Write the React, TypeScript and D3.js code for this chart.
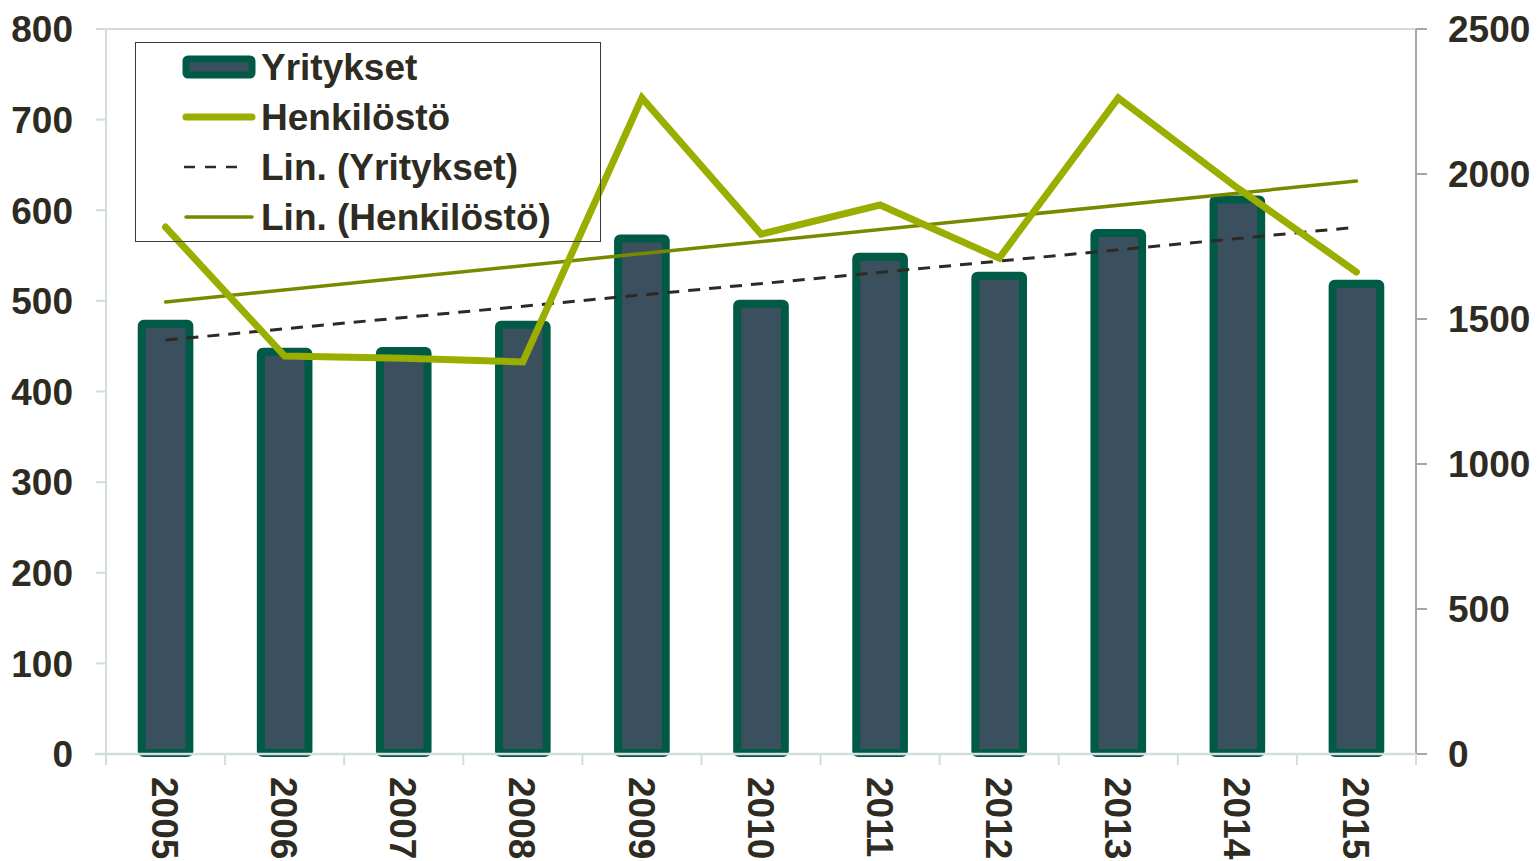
import React, { useRef, useEffect } from 'react';
import * as d3 from 'd3';

const years = ['2005', '2006', '2007', '2008', '2009', '2010', '2011', '2012', '2013', '2014', '2015'];
const yritykset = [477, 446, 447, 476, 571, 499, 551, 530, 577, 614, 521];
const henkilosto = [1817, 1372, 1365, 1352, 2262, 1793, 1893, 1710, 2262, 1952, 1662];
const leftTicks = [0, 100, 200, 300, 400, 500, 600, 700, 800];
const rightTicks = [0, 500, 1000, 1500, 2000, 2500];

const TEXT = '#2e2b22';
const BAR_STROKE = '#005a46';
const BAR_FILL = '#3b505e';
const LINE = '#9aae00';
const TREND_H = '#7a8800';

// least squares fit, returns value at first and last index
function trend(vals: number[]) {
  const n = vals.length;
  const mx = (n - 1) / 2;
  const my = d3.mean(vals) as number;
  let sxy = 0, sxx = 0;
  vals.forEach((v, i) => { sxy += (i - mx) * (v - my); sxx += (i - mx) * (i - mx); });
  const b = sxy / sxx;
  return [my - b * mx, my + b * (n - 1 - mx)];
}

function Chart() {
  const ref = useRef<SVGSVGElement>(null);

  useEffect(() => {
    const svg = d3.select(ref.current);
    svg.selectAll('*').remove();

    const left = 106, right = 1416, top = 29, bottom = 754;
    const font = '"Liberation Sans", Arial, sans-serif';
    const fs = 37;

    const x = d3.scaleBand().domain(years).range([left, right]).padding(0);
    const yL = d3.scaleLinear().domain([0, 800]).range([bottom, top]);
    const yR = d3.scaleLinear().domain([0, 2500]).range([bottom, top]);
    const cx = (d: string) => (x(d) as number) + x.bandwidth() / 2;
    const barW = x.bandwidth() * 0.4;

    // top border line
    svg.append('line')
      .attr('x1', left).attr('x2', right)
      .attr('y1', top).attr('y2', top)
      .attr('stroke', '#d3dde0').attr('stroke-width', 2);

    // left axis
    const la = svg.append('g');
    la.append('line')
      .attr('x1', left).attr('x2', left).attr('y1', top).attr('y2', bottom)
      .attr('stroke', '#d3dde0').attr('stroke-width', 2);
    leftTicks.forEach(t => {
      la.append('line')
        .attr('x1', left - 10).attr('x2', left).attr('y1', yL(t)).attr('y2', yL(t))
        .attr('stroke', '#d3dde0').attr('stroke-width', 2);
      la.append('text')
        .attr('x', 73).attr('y', yL(t)).attr('dy', '0.36em')
        .attr('text-anchor', 'end')
        .attr('font-family', font).attr('font-weight', 'bold').attr('font-size', fs)
        .attr('fill', TEXT).text(t);
    });

    // right axis
    const ra = svg.append('g');
    ra.append('line')
      .attr('x1', right).attr('x2', right).attr('y1', top).attr('y2', bottom)
      .attr('stroke', '#a6a6a6').attr('stroke-width', 2);
    rightTicks.forEach(t => {
      ra.append('line')
        .attr('x1', right).attr('x2', right + 11).attr('y1', yR(t)).attr('y2', yR(t))
        .attr('stroke', '#a6a6a6').attr('stroke-width', 2);
      ra.append('text')
        .attr('x', 1448).attr('y', yR(t)).attr('dy', '0.36em')
        .attr('font-family', font).attr('font-weight', 'bold').attr('font-size', fs)
        .attr('fill', TEXT).text(t);
    });

    // bars
    svg.selectAll('.bar')
      .data(years)
      .enter().append('rect')
      .attr('class', 'bar')
      .attr('x', d => cx(d) - barW / 2)
      .attr('y', (d, i) => yL(yritykset[i]) + 2)
      .attr('width', barW)
      .attr('height', (d, i) => bottom - 1 - yL(yritykset[i]) - 2)
      .attr('rx', 2)
      .attr('fill', BAR_FILL)
      .attr('stroke', BAR_STROKE)
      .attr('stroke-width', 8);

    // bottom axis
    const ba = svg.append('g');
    ba.append('line')
      .attr('x1', 95).attr('x2', right).attr('y1', bottom).attr('y2', bottom)
      .attr('stroke', '#d3dde0').attr('stroke-width', 2.5);
    const bounds = years.map(d => x(d) as number).concat([right]);
    bounds.forEach(b => {
      ba.append('line')
        .attr('x1', b).attr('x2', b).attr('y1', bottom).attr('y2', bottom + 11)
        .attr('stroke', '#d3dde0').attr('stroke-width', 2);
    });
    years.forEach(d => {
      ba.append('text')
        .attr('transform', `translate(${cx(d)},777) rotate(90)`)
        .attr('dy', '0.36em')
        .attr('font-family', font).attr('font-weight', 'bold').attr('font-size', fs)
        .attr('fill', TEXT).text(d);
    });

    // trend lines
    const tY = trend(yritykset);
    svg.append('line')
      .attr('x1', cx(years[0])).attr('x2', cx(years[years.length - 1]))
      .attr('y1', yL(tY[0])).attr('y2', yL(tY[1]))
      .attr('stroke', '#2e2a22').attr('stroke-width', 3)
      .attr('stroke-dasharray', '12,9');

    const tH = trend(henkilosto);
    svg.append('line')
      .attr('x1', cx(years[0])).attr('x2', cx(years[years.length - 1]))
      .attr('y1', yR(tH[0])).attr('y2', yR(tH[1]))
      .attr('stroke', TREND_H).attr('stroke-width', 3.5)
      .attr('stroke-linecap', 'round');

    // Henkilöstö line
    const line = d3.line<number>()
      .x((d, i) => cx(years[i]))
      .y(d => yR(d));
    svg.append('path')
      .datum(henkilosto)
      .attr('fill', 'none')
      .attr('stroke', LINE)
      .attr('stroke-width', 7)
      .attr('stroke-linecap', 'round')
      .attr('stroke-linejoin', 'miter')
      .attr('d', line);

    // legend (transparent box)
    const lg = svg.append('g');
    lg.append('rect')
      .attr('x', 135.5).attr('y', 42.5).attr('width', 465).attr('height', 199)
      .attr('fill', 'none').attr('stroke', '#3a3a3a').attr('stroke-width', 1);
    const rows = [
      { label: 'Yritykset', y: 67 },
      { label: 'Henkilöstö', y: 117 },
      { label: 'Lin. (Yritykset)', y: 167 },
      { label: 'Lin. (Henkilöstö)', y: 217 },
    ];
    lg.append('rect')
      .attr('x', 186).attr('y', 59).attr('width', 66).attr('height', 16).attr('rx', 2)
      .attr('fill', BAR_FILL).attr('stroke', BAR_STROKE).attr('stroke-width', 7);
    lg.append('line')
      .attr('x1', 186).attr('x2', 252).attr('y1', 117).attr('y2', 117)
      .attr('stroke', LINE).attr('stroke-width', 7).attr('stroke-linecap', 'round');
    lg.append('line')
      .attr('x1', 184).attr('x2', 244).attr('y1', 167).attr('y2', 167)
      .attr('stroke', '#2e2a22').attr('stroke-width', 2.5).attr('stroke-dasharray', '11,10');
    lg.append('line')
      .attr('x1', 186).attr('x2', 252).attr('y1', 217).attr('y2', 217)
      .attr('stroke', TREND_H).attr('stroke-width', 3.5).attr('stroke-linecap', 'round');
    rows.forEach(r => {
      lg.append('text')
        .attr('x', 261).attr('y', r.y).attr('dy', '0.36em')
        .attr('font-family', font).attr('font-weight', 'bold').attr('font-size', fs)
        .attr('fill', TEXT).text(r.label);
    });
  }, []);

  return (
    <svg ref={ref} width={1537} height={861}
      style={{ position: 'absolute', left: 0, top: 0, background: 'white' }}></svg>
  );
}

export default function App() {
  return <Chart />;
}
